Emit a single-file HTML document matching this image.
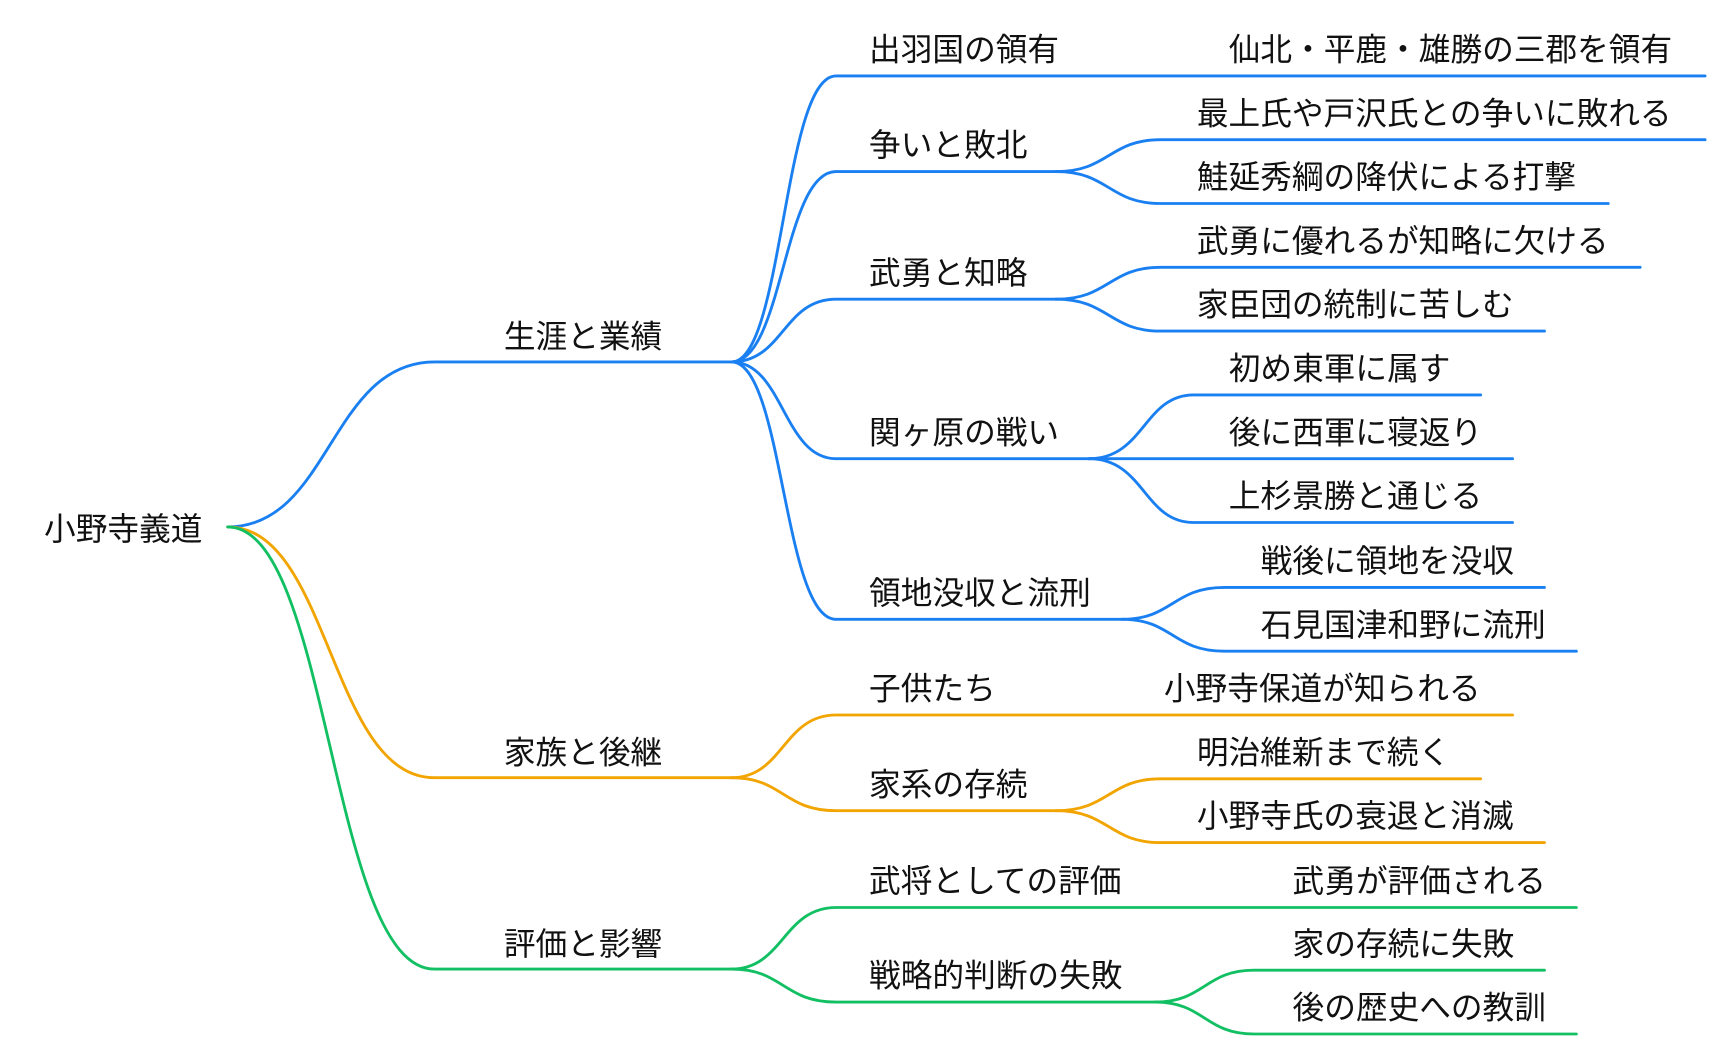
<!DOCTYPE html>
<html><head><meta charset="utf-8"><style>
html,body{margin:0;padding:0;background:#fff;width:1726px;height:1056px;overflow:hidden}
svg{display:block}
text{font-family:"Liberation Sans","Noto Sans CJK JP",sans-serif;font-size:28.8px;fill:#111}
path{fill:none;stroke-width:2.6;stroke-linecap:round}
.b{stroke:#1a80f2}.o{stroke:#f2a500}.g{stroke:#12c063}
</style></head><body>
<svg width="1726" height="1056" viewBox="0 0 1569 960" xmlns="http://www.w3.org/2000/svg">
<text x="40" y="491">小野寺義道</text>
<path class="b" d="M207 479 C300 479 300 329 395 329 H665"/>
<path class="o" d="M207 479 C300 479 300 707 395 707 H665"/>
<path class="g" d="M207 479 C300 479 300 881 395 881 H665"/>
<text x="458" y="316">生涯と業績</text>
<text x="458" y="694">家族と後継</text>
<text x="458" y="868">評価と影響</text>
<path class="b" d="M665 329 C712 329 712 69 760 69 H1550"/>
<path class="b" d="M665 329 C712 329 712 156 760 156 H960"/>
<path class="b" d="M665 329 C712 329 712 272 760 272 H960"/>
<path class="b" d="M665 329 C712 329 712 417 760 417 H990"/>
<path class="b" d="M665 329 C712 329 712 563 760 563 H1020"/>
<text x="790" y="55">出羽国の領有</text>
<text x="1117" y="55">仙北・平鹿・雄勝の三郡を領有</text>
<text x="790" y="142">争いと敗北</text>
<text x="790" y="258">武勇と知略</text>
<text x="790" y="403">関ヶ原の戦い</text>
<text x="790" y="549">領地没収と流刑</text>
<path class="b" d="M960 156 C1008 156 1008 127 1055 127 H1550"/>
<path class="b" d="M960 156 C1008 156 1008 185 1055 185 H1462"/>
<text x="1088" y="113">最上氏や戸沢氏との争いに敗れる</text>
<text x="1088" y="171">鮭延秀綱の降伏による打撃</text>
<path class="b" d="M960 272 C1008 272 1008 243 1055 243 H1491"/>
<path class="b" d="M960 272 C1008 272 1008 301 1055 301 H1404"/>
<text x="1088" y="229">武勇に優れるが知略に欠ける</text>
<text x="1088" y="287">家臣団の統制に苦しむ</text>
<path class="b" d="M990 417 C1040 417 1040 359 1085 359 H1346"/>
<path class="b" d="M990 417 H1375"/>
<path class="b" d="M990 417 C1040 417 1040 475 1085 475 H1375"/>
<text x="1117" y="345">初め東軍に属す</text>
<text x="1117" y="403">後に西軍に寝返り</text>
<text x="1117" y="461">上杉景勝と通じる</text>
<path class="b" d="M1020 563 C1066 563 1066 534 1113 534 H1404"/>
<path class="b" d="M1020 563 C1066 563 1066 592 1113 592 H1433"/>
<text x="1146" y="520">戦後に領地を没収</text>
<text x="1146" y="578">石見国津和野に流刑</text>
<path class="o" d="M665 707 C712 707 712 650 760 650 H1375"/>
<path class="o" d="M665 707 C712 707 712 737 760 737 H960"/>
<text x="790" y="636">子供たち</text>
<text x="1058" y="636">小野寺保道が知られる</text>
<text x="790" y="723">家系の存続</text>
<path class="o" d="M960 737 C1008 737 1008 708 1055 708 H1346"/>
<path class="o" d="M960 737 C1008 737 1008 766 1055 766 H1404"/>
<text x="1088" y="694">明治維新まで続く</text>
<text x="1088" y="752">小野寺氏の衰退と消滅</text>
<path class="g" d="M665 881 C712 881 712 825 760 825 H1433"/>
<path class="g" d="M665 881 C712 881 712 911 760 911 H1050"/>
<text x="790" y="811">武将としての評価</text>
<text x="1175" y="811">武勇が評価される</text>
<text x="790" y="897">戦略的判断の失敗</text>
<path class="g" d="M1050 911 C1095 911 1095 882 1140 882 H1404"/>
<path class="g" d="M1050 911 C1095 911 1095 940 1140 940 H1433"/>
<text x="1175" y="868">家の存続に失敗</text>
<text x="1175" y="926">後の歴史への教訓</text>
</svg>
</body></html>
